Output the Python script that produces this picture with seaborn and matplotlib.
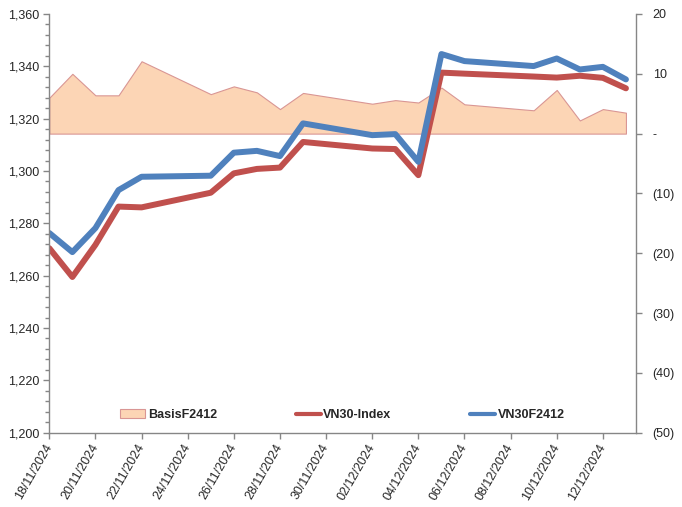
import pandas as pd
import seaborn as sns
import matplotlib
matplotlib.use("Agg")
import matplotlib.pyplot as plt
import matplotlib.dates as mdates
from matplotlib.ticker import FuncFormatter, MultipleLocator, FixedLocator
from matplotlib.patches import Patch
from matplotlib.lines import Line2D

# Values
dates = ['2024-11-18', '2024-11-19', '2024-11-20', '2024-11-21', '2024-11-22',
         '2024-11-25', '2024-11-26', '2024-11-27', '2024-11-28', '2024-11-29',
         '2024-12-02', '2024-12-03', '2024-12-04', '2024-12-05', '2024-12-06',
         '2024-12-09', '2024-12-10', '2024-12-11', '2024-12-12', '2024-12-13']
vn30f2412 = [1276.3, 1269.0, 1278.2, 1292.7, 1297.8,
             1298.2, 1307.0, 1307.7, 1305.7, 1318.2,
             1313.7, 1314.1, 1303.5, 1344.7, 1342.0,
             1340.1, 1343.0, 1338.8, 1339.8, 1335.0]
vn30_index = [1270.5, 1259.5, 1271.8, 1286.4, 1286.1,
              1291.7, 1299.1, 1300.8, 1301.3, 1311.1,
              1308.6, 1308.4, 1298.4, 1337.6, 1337.2,
              1336.1, 1335.7, 1336.4, 1335.6, 1331.6]
basis = [6.0, 10.0, 6.4, 6.4, 12.1,
         6.6, 7.9, 6.9, 4.1, 6.8,
         5.0, 5.6, 5.2, 7.7, 4.9,
         3.9, 7.3, 2.2, 4.1, 3.5]
tick_dates = pd.date_range('2024-11-18', '2024-12-12', freq='2D')

df = pd.DataFrame({'date': pd.to_datetime(dates), 'VN30F2412': vn30f2412,
                   'VN30-Index': vn30_index, 'BasisF2412': basis})

sns.set_style("white")
plt.rcParams['font.family'] = ['Liberation Sans', 'DejaVu Sans']
plt.rcParams['font.size'] = 9

blue = '#4F81BD'
red = '#C0504D'
fill_c = '#FCD5B5'
edge_c = '#D99694'
spine_c = '#868686'

fig = plt.figure(figsize=(6.82, 5.07), dpi=100)
ax = fig.add_axes([0.0723, 0.1466, 0.9326 - 0.0723, 0.9724 - 0.1466])
ax2 = ax.twinx()

# area on the right axis, lines on the left axis drawn on top
ax2.fill_between(df['date'], 0, df['BasisF2412'], facecolor=fill_c,
                 edgecolor=edge_c, linewidth=0.8)
ax.set_zorder(ax2.get_zorder() + 1)
ax.patch.set_visible(False)

sns.lineplot(data=df, x='date', y='VN30-Index', ax=ax, color=red, lw=4.3,
             solid_joinstyle='round', solid_capstyle='round')
sns.lineplot(data=df, x='date', y='VN30F2412', ax=ax, color=blue, lw=4.3,
             solid_joinstyle='round', solid_capstyle='round')

xmin = pd.Timestamp('2024-11-18')
xmax = pd.Timestamp('2024-12-13 10:30')
ax.set_xlim(xmin, xmax)
ax.set_ylim(1200, 1360)
ax2.set_ylim(-50, 20)

ax.yaxis.set_major_locator(MultipleLocator(20))
ax.yaxis.set_minor_locator(MultipleLocator(4))
ax.yaxis.set_major_formatter(FuncFormatter(lambda v, p: f"{v:,.0f}"))
ax2.yaxis.set_major_locator(MultipleLocator(10))


def acct(v, p):
    if abs(v) < 1e-9:
        return '-'
    if v < 0:
        return f"({abs(v):.0f})"
    return f"{v:.0f}"


ax2.yaxis.set_major_formatter(FuncFormatter(acct))

ax.xaxis.set_major_locator(FixedLocator(mdates.date2num(tick_dates)))
ax.xaxis.set_major_formatter(mdates.DateFormatter('%d/%m/%Y'))
plt.setp(ax.get_xticklabels(), rotation=60, ha='right', va='center',
         rotation_mode='anchor')

ax.set_xlabel('')
ax.set_ylabel('')
ax2.set_ylabel('')

for a in (ax, ax2):
    for s in a.spines.values():
        s.set_color(spine_c)
        s.set_linewidth(1.0)
    a.spines['top'].set_visible(False)
ax.spines['right'].set_visible(False)
ax2.spines['left'].set_visible(False)
ax2.spines['bottom'].set_visible(False)

ax.tick_params(axis='y', which='major', direction='out', length=4, width=1,
               color=spine_c, pad=3, labelsize=9, left=True)
ax.tick_params(axis='y', which='minor', direction='out', length=3, width=1,
               color=spine_c, left=True)
ax.tick_params(axis='x', direction='out', length=4, width=1, color=spine_c,
               pad=5, labelsize=9, bottom=True)
ax2.tick_params(axis='y', direction='out', length=4, width=1, color=spine_c,
                pad=8, labelsize=9, right=True)

handles = [Patch(facecolor=fill_c, edgecolor=edge_c, linewidth=0.8),
           Line2D([0], [0], color=red, lw=3, solid_capstyle='round'),
           Line2D([0], [0], color=blue, lw=3, solid_capstyle='round')]
ax.legend(handles, ['BasisF2412', 'VN30-Index', 'VN30F2412'], loc='center',
          bbox_to_anchor=(0.5, 0.042), ncol=3, frameon=False,
          prop={'weight': 'bold', 'size': 9}, handlelength=2.0,
          handletextpad=0.2, columnspacing=6.3)

fig.savefig('out.png', dpi=100)
